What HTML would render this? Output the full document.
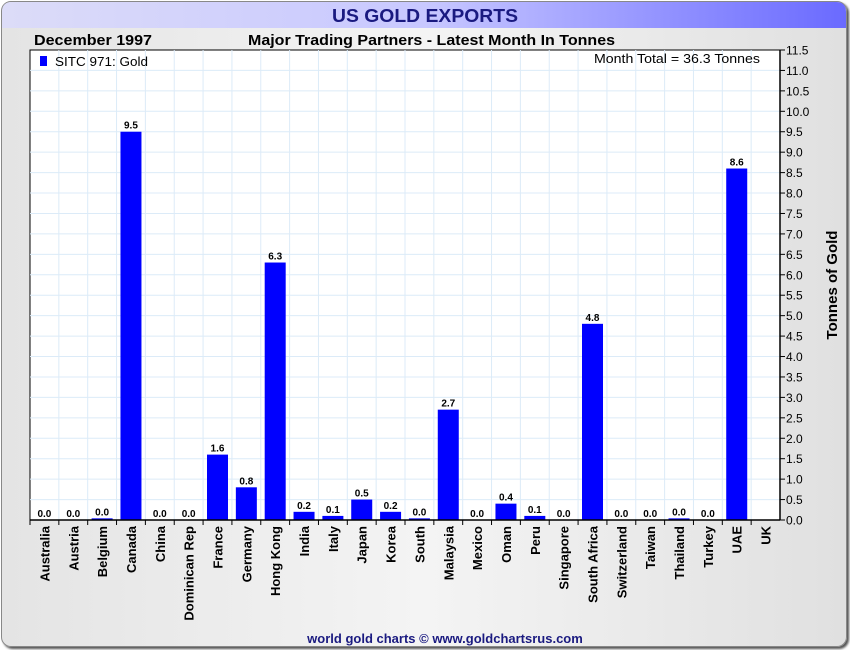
<!DOCTYPE html>
<html><head><meta charset="utf-8"><style>
body{margin:0;width:850px;height:650px;overflow:hidden;background:#fff;font-family:"Liberation Sans",sans-serif}
#frame{position:absolute;left:1px;top:1px;width:844px;height:644px;border:1px solid #888;border-radius:10px;background:linear-gradient(90deg,#e4e4e4,#f4f4f4 50%,#e0e0e0);box-shadow:2px 2px 2px #555;overflow:hidden}
</style></head><body>
<div id="frame"></div>
<svg id="c" width="850" height="650" style="position:absolute;left:0;top:0">
<defs><linearGradient id="tg" x1="0" x2="1"><stop offset="0" stop-color="#dcdcf8"/><stop offset="0.5" stop-color="#c8c8ff"/><stop offset="1" stop-color="#6a6aff"/></linearGradient></defs>
<path d="M2,28 L2,12 Q2,2 12,2 L836,2 Q846,2 846,12 L846,28 Z" fill="url(#tg)"/>
<text x="332" y="22" textLength="186" lengthAdjust="spacingAndGlyphs" font-size="18" font-weight="bold" fill="#1a1a80">US GOLD EXPORTS</text>
<text x="34" y="45" textLength="118" lengthAdjust="spacingAndGlyphs" font-size="15" font-weight="bold" fill="#000">December 1997</text>
<text x="248" y="45" textLength="367" lengthAdjust="spacingAndGlyphs" font-size="15" font-weight="bold" fill="#000">Major Trading Partners - Latest Month In Tonnes</text>
<rect x="30" y="50" width="750" height="470" fill="#fff" stroke="#000" stroke-width="1"/>
<g id="grid"></g><g id="bars"></g><g id="axes"></g>
<rect x="40" y="56" width="7" height="10" fill="#0000ff"/>
<text x="55" y="66" textLength="93" lengthAdjust="spacingAndGlyphs" font-size="13" fill="#000">SITC 971: Gold</text>
<text x="594" y="63" textLength="166" lengthAdjust="spacingAndGlyphs" font-size="13" fill="#000">Month Total = 36.3 Tonnes</text>
<text transform="translate(837,285) rotate(-90)" text-anchor="middle" font-size="15" font-weight="bold" fill="#000">Tonnes of Gold</text>
<text x="445" y="643" text-anchor="middle" font-size="13" font-weight="bold" fill="#1a1a80">world gold charts © www.goldchartsrus.com</text>
</svg>
<script>
const categories=["Australia","Austria","Belgium","Canada","China","Dominican Rep","France","Germany","Hong Kong","India","Italy","Japan","Korea","South","Malaysia","Mexico","Oman","Peru","Singapore","South Africa","Switzerland","Taiwan","Thailand","Turkey","UAE","UK"];
const values=[0,0,0.04,9.5,0,0,1.6,0.8,6.3,0.2,0.1,0.5,0.2,0.04,2.7,0,0.4,0.1,0,4.8,0,0,0.04,0,8.6,null];
const valueLabels=["0.0","0.0","0.0","9.5","0.0","0.0","1.6","0.8","6.3","0.2","0.1","0.5","0.2","0.0","2.7","0.0","0.4","0.1","0.0","4.8","0.0","0.0","0.0","0.0","8.6",""];
const yTicks=[0,0.5,1,1.5,2,2.5,3,3.5,4,4.5,5,5.5,6,6.5,7,7.5,8,8.5,9,9.5,10,10.5,11,11.5];
const NS="http://www.w3.org/2000/svg";
const L=30,R=780,T=50,B=520,yMax=11.5,n=categories.length;
const step=(R-L)/n;
const x=i=>L+i*step, y=v=>B-(v/yMax)*(B-T);
function mk(tag,attrs,parent,txt){const e=document.createElementNS(NS,tag);for(const k in attrs)e.setAttribute(k,attrs[k]);if(txt!==undefined)e.textContent=txt;document.getElementById(parent).appendChild(e);return e;}
yTicks.forEach(t=>{
 if(t>0&&t<yMax){const g=mk('line',{x1:L,x2:R,y1:y(t),y2:y(t),stroke:'#dcebf8','stroke-width':1},'grid');
 
 }
 const tk=mk('line',{x1:R,x2:R+5,y1:y(t),y2:y(t),stroke:'#000'},'axes');
 
 
 const lb=mk('text',{x:R+6,y:y(t)+4.5,'font-size':12,fill:'#000'},'axes',t.toFixed(1));
 
 
});
for(let i=1;i<n;i++){const g=mk('line',{x1:x(i),x2:x(i),y1:T,y2:B,stroke:'#dcebf8'},'grid');
 
 }
categories.forEach((c,i)=>{
 const cx=x(i)+step/2;
 const v=values[i];
 if(v!==null){
  const b=mk('rect',{x:cx-10.5,y:y(v),width:21,height:B-y(v),fill:'#0000ff'},'bars');
  
  
  const vl=mk('text',{x:cx,y:y(v)-3,'text-anchor':'middle','font-size':10,'font-weight':'bold',fill:'#000'},'bars',valueLabels[i]);
  
  
 }
 const tk=mk('line',{x1:x(i),x2:x(i),y1:B,y2:B+5,stroke:'#000'},'axes');
 
 
 const lb=mk('text',{transform:`translate(${cx+5},${B+6}) rotate(-90)`,'text-anchor':'end','font-size':13,'font-weight':'bold',fill:'#000'},'axes',c);
 
 
});
const ax=mk('line',{x1:L,x2:R,y1:B,y2:B,stroke:'#000','stroke-width':1.5},'axes');


const ay=mk('line',{x1:R,x2:R,y1:T,y2:B,stroke:'#000','stroke-width':1.5},'axes');


</script>
</body></html>
